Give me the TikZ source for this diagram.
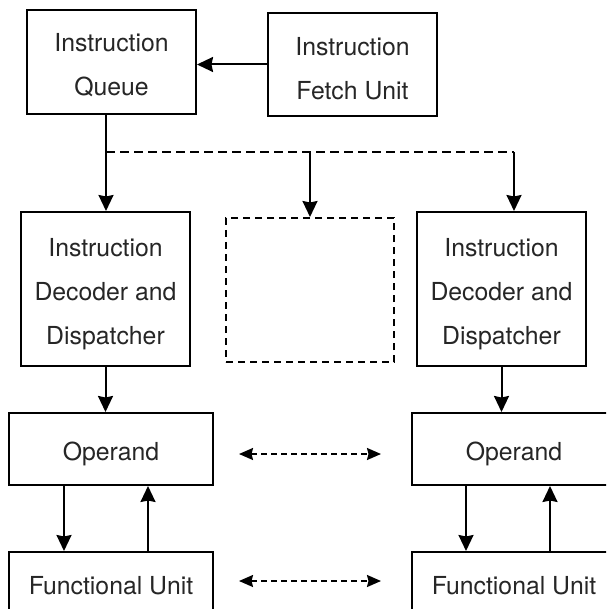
\documentclass[tikz,border=0pt]{standalone}
\usepackage{fontspec}
\setmainfont{TeX Gyre Heros}
\usetikzlibrary{arrows.meta}

\tikzset{
  unit/.style={draw, line width=2pt, inner sep=0pt},
  caption/.style={align=center, text depth=0pt, yshift=-2.5pt,
    font=\fontsize{24.8}{44}\selectfont, text=black!85},
  head/.style={Stealth[length=16pt, width=15pt, inset=1.5pt]},
  smallhead/.style={Stealth[length=14pt, width=12pt, inset=1.5pt]},
  flow/.style={line width=2pt, -{Stealth[length=16pt, width=15pt, inset=1.5pt]}},
  link/.style={line width=1.8pt, dash pattern=on 6pt off 4pt,
    {Stealth[length=14pt, width=12pt, inset=1.5pt]}-{Stealth[length=14pt, width=12pt, inset=1.5pt]}},
  bus/.style={line width=1.9pt, dash pattern=on 9pt off 5pt},
  spare/.style={draw, line width=2pt, dash pattern=on 7pt off 5pt, inner sep=0pt}
}

\begin{document}
\begin{tikzpicture}[x=1pt,y=-1pt]
  \clip (0,0) rectangle (606,609);
  \fill[white] (0,0) rectangle (606,609);

  % front end
  \node[unit, minimum width=169pt, minimum height=104pt,
    label={[caption]center:{Instruction\\Queue}}] (queue) at (111.5,62) {};
  \node[unit, minimum width=169pt, minimum height=103pt,
    label={[caption, yshift=-1pt]center:{Instruction\\Fetch Unit}}] (fetch) at (352.5,64.5) {};

  % decoder stages
  \node[unit, minimum width=169pt, minimum height=154pt,
    label={[caption]center:{Instruction\\Decoder and\\Dispatcher}}] (dec1) at (105.5,289) {};
  \node[spare, minimum width=168pt, minimum height=144pt] (dec0) at (310,290) {};
  \node[unit, minimum width=169pt, minimum height=154pt,
    label={[caption]center:{Instruction\\Decoder and\\Dispatcher}}] (dec2) at (501.5,289) {};

  % execution units
  \node[unit, minimum width=204pt, minimum height=72pt,
    label={[caption]center:Operand}] (op1) at (111,449) {};
  \node[unit, minimum width=204pt, minimum height=72pt,
    label={[caption]center:Operand}] (op2) at (514,449) {};
  \node[unit, minimum width=204pt, minimum height=61pt,
    label={[caption]center:Functional Unit}] (fu1) at (111,582.5) {};
  \node[unit, minimum width=204pt, minimum height=61pt,
    label={[caption]center:Functional Unit}] (fu2) at (514,582.5) {};

  % dispatch bus
  \coordinate (busL) at (106,152);
  \coordinate (busR) at (514,152);

  \draw[flow] (fetch.west) -- (queue.east |- fetch.west);
  \draw[flow] (busL |- queue.south) -- (busL |- dec1.north);
  \draw[bus] (busL) -- (busR);
  \draw[flow] (dec0.north |- busR) -- (dec0.north);
  \draw[flow] (busR) -- (busR |- dec2.north);

  \draw[flow] (dec1.south) -- (dec1.south |- op1.north);
  \draw[flow] (dec2.south) -- (dec2.south |- op2.north);

  % operand <-> functional unit
  \draw[flow] ([xshift=-47pt]op1.south) -- ([xshift=-47pt]op1.south |- fu1.north);
  \draw[flow] ([xshift=37pt]fu1.north) -- ([xshift=37pt]fu1.north |- op1.south);
  \draw[flow] ([xshift=-48pt]op2.south) -- ([xshift=-48pt]op2.south |- fu2.north);
  \draw[flow] ([xshift=36pt]fu2.north) -- ([xshift=36pt]fu2.north |- op2.south);

  % links between the two lanes
  \draw[link] ([xshift=25pt,yshift=-5pt]op1.east) -- ([xshift=-30pt,yshift=-5pt]op2.west);
  \draw[link] ([xshift=25pt,yshift=1.5pt]fu1.east) -- ([xshift=-30pt,yshift=1.5pt]fu2.west);
\end{tikzpicture}
\end{document}
